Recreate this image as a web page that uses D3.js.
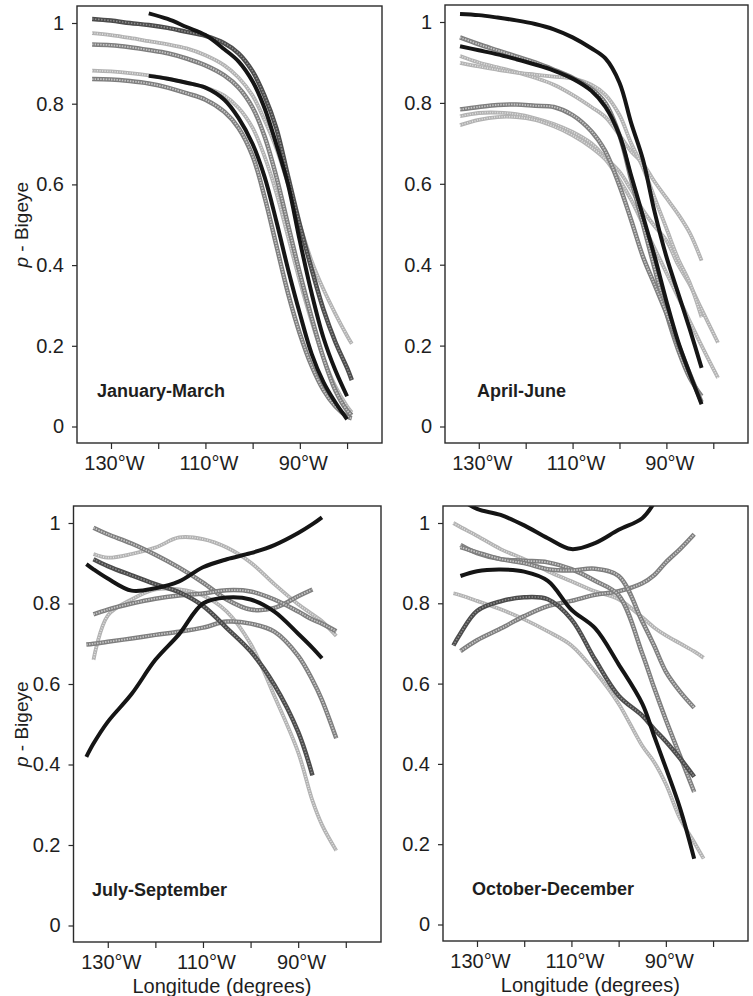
<!DOCTYPE html>
<html>
<head>
<meta charset="utf-8">
<script src="https://cdn.jsdelivr.net/npm/d3@7"></script>
<style>
  body { margin: 0; background: #fff; }
  svg text { font-family: "Liberation Sans Narrow", "Arial Narrow", "Liberation Sans", sans-serif; fill: #1e1e1e; }
  .panel-label { font-family: "Liberation Sans", Arial, sans-serif; font-weight: bold; font-size: 18px; }
</style>
</head>
<body>
<svg id="chart" width="753" height="996"></svg>
<script>
// ---- data ----
const panelNames = ["January-March", "April-June", "July-September", "October-December"];

const xTicks = [-130, -120, -110, -100, -90, -80];
const xTickLabels = { "-130": "130°W", "-110": "110°W", "-90": "90°W" };
const yTicks = [0, 0.2, 0.4, 0.6, 0.8, 1];
const yTickLabels = ["0", "0.2", "0.4", "0.6", "0.8", "1"];

// January-March
const lonJanMar = [-134, -130, -126, -122, -118, -114, -110, -106, -103, -100, -97.5, -95, -92.5, -90, -87.5, -85, -82.5, -80, -79];
const janMarValues = [
  [1.01, 1.006, 1.0, 0.995, 0.988, 0.978, 0.968, 0.95, 0.925, 0.88, 0.82, 0.74, 0.62, 0.50, 0.39, 0.29, 0.21, 0.145, 0.115],
  [null, null, null, 1.024, 1.01, 0.99, 0.97, 0.935, 0.905, 0.855, 0.79, 0.70, 0.60, 0.46, 0.33, 0.22, 0.14, 0.075, null],
  [0.975, 0.97, 0.963, 0.955, 0.947, 0.937, 0.92, 0.895, 0.865, 0.82, 0.76, 0.69, 0.60, 0.50, 0.41, 0.34, 0.28, 0.225, 0.205],
  [0.947, 0.945, 0.94, 0.933, 0.925, 0.912, 0.895, 0.87, 0.84, 0.79, 0.72, 0.62, 0.50, 0.38, 0.27, 0.17, 0.09, 0.04, 0.028],
  [0.882, 0.88, 0.876, 0.87, 0.862, 0.852, 0.84, 0.82, 0.79, 0.74, 0.67, 0.58, 0.47, 0.36, 0.26, 0.17, 0.10, 0.05, 0.035],
  [0.861, 0.86, 0.856, 0.85, 0.84, 0.826, 0.81, 0.78, 0.74, 0.67, 0.57, 0.45, 0.33, 0.23, 0.15, 0.09, 0.05, 0.025, 0.02],
  [null, null, null, 0.869, 0.862, 0.852, 0.84, 0.81, 0.765, 0.70, 0.62, 0.51, 0.39, 0.28, 0.18, 0.11, 0.06, 0.018, null]
];
const janMarShades = ["dark", "black", "light", "mid", "light", "mid", "black"];

// April-June
const lonAprJun = [-134, -130, -126, -122, -118, -114, -110, -106, -103, -100, -97.5, -95, -92.5, -90, -87.5, -85, -82.5, -79];
const aprJunValues = [
  [1.02, 1.017, 1.011, 1.004, 0.995, 0.982, 0.962, 0.935, 0.91, 0.85, 0.75, 0.66, 0.53, 0.42, 0.33, 0.24, 0.145, null],
  [0.94, 0.93, 0.92, 0.908, 0.895, 0.88, 0.86, 0.83, 0.79, 0.72, 0.62, 0.52, 0.42, 0.31, 0.21, 0.13, 0.055, null],
  [0.962, 0.945, 0.93, 0.915, 0.9, 0.882, 0.862, 0.835, 0.80, 0.72, 0.61, 0.50, 0.39, 0.28, 0.19, 0.12, 0.075, null],
  [0.784, 0.79, 0.795, 0.796, 0.793, 0.79, 0.77, 0.73, 0.68, 0.595, 0.51, 0.42, 0.35, 0.28, 0.205, 0.13, 0.06, null],
  [0.767, 0.775, 0.776, 0.772, 0.762, 0.748, 0.728, 0.70, 0.665, 0.63, 0.585, 0.535, 0.495, 0.46, 0.40, 0.35, 0.29, 0.207],
  [0.745, 0.758, 0.765, 0.765, 0.758, 0.742, 0.72, 0.69, 0.66, 0.61, 0.56, 0.50, 0.44, 0.38, 0.32, 0.26, 0.20, 0.12],
  [0.916, 0.90, 0.888, 0.876, 0.862, 0.845, 0.82, 0.79, 0.765, 0.72, 0.68, 0.65, 0.605, 0.565, 0.525, 0.478, 0.41, null],
  [0.899, 0.89, 0.882, 0.875, 0.87, 0.865, 0.86, 0.845, 0.82, 0.77, 0.70, 0.64, 0.565, 0.49, 0.415, 0.355, 0.27, null]
];
const aprJunShades = ["black", "black", "mid", "mid", "light", "light", "light", "light"];

// July-September
const lonJulSep = [-134.5, -133, -130, -125, -120, -115, -110, -105, -100, -95, -90, -87, -85, -82];
const julSepValues = [
  [0.419, 0.452, 0.506, 0.575, 0.66, 0.724, 0.80, 0.815, 0.81, 0.78, 0.725, 0.69, 0.664, null],
  [0.898, 0.885, 0.862, 0.832, 0.838, 0.855, 0.89, 0.91, 0.925, 0.945, 0.975, 0.997, 1.014, null],
  [null, 0.988, 0.972, 0.949, 0.921, 0.889, 0.852, 0.81, 0.785, 0.789, 0.818, 0.835, null, null],
  [null, 0.773, 0.785, 0.80, 0.812, 0.82, 0.825, 0.833, 0.83, 0.81, 0.78, 0.76, 0.75, 0.731],
  [null, 0.923, 0.914, 0.923, 0.939, 0.964, 0.96, 0.939, 0.902, 0.848, 0.798, 0.773, 0.756, 0.719],
  [null, 0.91, 0.893, 0.87, 0.848, 0.828, 0.794, 0.739, 0.681, 0.598, 0.481, 0.373, null, null],
  [0.698, 0.70, 0.705, 0.713, 0.722, 0.73, 0.74, 0.755, 0.75, 0.73, 0.67, 0.61, 0.56, 0.465],
  [null, 0.66, 0.77, 0.81, 0.835, 0.835, 0.82, 0.78, 0.70, 0.57, 0.43, 0.31, 0.25, 0.186]
];
const julSepShades = ["black", "black", "mid", "mid", "light", "dark", "mid", "light"];

// October-December
const lonOctDec = [-135, -133.5, -130, -125, -120, -115, -110, -105, -100, -95, -92.5, -90, -87, -84, -82];
const octDecValues = [
  [null, 1.06, 1.035, 1.02, 0.994, 0.962, 0.935, 0.95, 0.983, 1.012, 1.05, null, null, null, null],
  [null, 0.868, 0.88, 0.884, 0.879, 0.856, 0.784, 0.738, 0.648, 0.55, 0.47, 0.39, 0.29, 0.164, null],
  [0.695, 0.725, 0.781, 0.805, 0.815, 0.81, 0.76, 0.66, 0.57, 0.52, 0.487, 0.456, 0.414, 0.368, null],
  [null, 0.681, 0.708, 0.737, 0.768, 0.793, 0.806, 0.821, 0.83, 0.85, 0.87, 0.902, 0.935, 0.972, null],
  [null, 0.945, 0.925, 0.91, 0.906, 0.902, 0.885, 0.856, 0.82, 0.675, 0.59, 0.51, 0.42, 0.33, null],
  [null, 0.94, 0.927, 0.91, 0.90, 0.885, 0.882, 0.886, 0.868, 0.755, 0.695, 0.63, 0.58, 0.54, null],
  [1.0, 0.99, 0.968, 0.935, 0.91, 0.88, 0.855, 0.83, 0.81, 0.765, 0.74, 0.72, 0.70, 0.68, 0.664],
  [0.825, 0.82, 0.806, 0.785, 0.76, 0.73, 0.695, 0.63, 0.55, 0.445, 0.405, 0.35, 0.264, 0.205, 0.164]
];
const octDecShades = ["black", "black", "dark", "mid", "mid", "mid", "light", "light"];

// ---- layout ----
const panels = [
  { name: panelNames[0], lons: lonJanMar, values: janMarValues, shades: janMarShades, left: 77, top: 6, right: 382, bottom: 443, labelDx: 20, yLabel: true, xLabel: false },
  { name: panelNames[1], lons: lonAprJun, values: aprJunValues, shades: aprJunShades, left: 445, top: 5, right: 748, bottom: 443, labelDx: 32, yLabel: false, xLabel: false },
  { name: panelNames[2], lons: lonJulSep, values: julSepValues, shades: julSepShades, left: 73.5, top: 506, right: 381, bottom: 942, labelDx: 18.5, yLabel: true, xLabel: true },
  { name: panelNames[3], lons: lonOctDec, values: octDecValues, shades: octDecShades, left: 443, top: 506, right: 748, bottom: 941, labelDx: 29, yLabel: false, xLabel: true }
];

// stroke layers for each grey shade (outer stroke + speckled core)
const shadeStyle = {
  black: [{ stroke: "#151515", width: 4 }],
  dark: [{ stroke: "#4c4c4c", width: 4.5 }, { stroke: "#8c8c8c", width: 1.6, dash: "1.5 1.5" }],
  mid: [{ stroke: "#7e7e7e", width: 4.5 }, { stroke: "#c6c6c6", width: 1.8, dash: "1.5 1.2" }],
  light: [{ stroke: "#b2b2b2", width: 3.8 }, { stroke: "#e2e2e2", width: 1.6, dash: "1 1.5" }]
};
const drawOrder = ["light", "mid", "dark", "black"];

const svg = d3.select("#chart");

panels.forEach((p, pi) => {
  const x = d3.scaleLinear().domain([-137.2, -72.6]).range([p.left, p.right]);
  const y = d3.scaleLinear().domain([0, 1]).range([p.bottom - 16.5, p.top + 17]);

  const g = svg.append("g").attr("class", "panel");

  // clip to the frame
  const clipId = "clip" + pi;
  svg.append("clipPath").attr("id", clipId)
    .append("rect")
    .attr("x", p.left).attr("y", p.top)
    .attr("width", p.right - p.left).attr("height", p.bottom - p.top);

  // curves
  const line = d3.line()
    .defined(d => d[1] != null)
    .x(d => x(d[0]))
    .y(d => y(d[1]))
    .curve(d3.curveCatmullRom.alpha(0.5));

  const series = p.values.map((vals, i) => ({
    shade: p.shades[i],
    points: p.lons.map((lon, j) => [lon, vals[j]])
  }));
  series.sort((a, b) => drawOrder.indexOf(a.shade) - drawOrder.indexOf(b.shade));

  const lines = g.append("g").attr("clip-path", `url(#${clipId})`);
  series.forEach(s => {
    shadeStyle[s.shade].forEach(layer => {
      lines.append("path")
        .datum(s.points)
        .attr("d", line)
        .attr("fill", "none")
        .attr("stroke", layer.stroke)
        .attr("stroke-width", layer.width)
        .attr("stroke-dasharray", layer.dash || null)
        .attr("stroke-linecap", "butt")
        .attr("stroke-linejoin", "round");
    });
  });

  // frame
  g.append("rect")
    .attr("x", p.left).attr("y", p.top)
    .attr("width", p.right - p.left).attr("height", p.bottom - p.top)
    .attr("fill", "none")
    .attr("stroke", "#2a2a2a")
    .attr("stroke-width", 1.4);

  // x axis
  const xAxis = g.append("g")
    .attr("transform", `translate(0,${p.bottom})`)
    .call(d3.axisBottom(x).tickValues(xTicks).tickSize(6).tickSizeOuter(0)
      .tickFormat(d => xTickLabels[d] || ""));
  xAxis.select(".domain").remove();
  xAxis.selectAll("line").attr("stroke", "#2a2a2a").attr("stroke-width", 1.2);
  xAxis.selectAll("text")
    .attr("y", 27).attr("dy", null).attr("dx", 3)
    .style("font-size", "20px")
    .attr("fill", "#1e1e1e");

  // y axis
  const yAxis = g.append("g")
    .attr("transform", `translate(${p.left},0)`)
    .call(d3.axisLeft(y).tickValues(yTicks).tickSize(5).tickPadding(8).tickSizeOuter(0)
      .tickFormat((d, i) => yTickLabels[i]));
  yAxis.select(".domain").remove();
  yAxis.selectAll("line").attr("stroke", "#2a2a2a").attr("stroke-width", 1.2);
  yAxis.selectAll("text")
    .style("font-size", "20px")
    .attr("fill", "#1e1e1e");

  // season label
  g.append("text")
    .attr("class", "panel-label")
    .attr("x", p.left + p.labelDx)
    .attr("y", p.bottom - 46.5)
    .text(p.name);

  if (p.yLabel) {
    const yl = g.append("text")
      .attr("transform", "rotate(-90)")
      .attr("x", -(y(0) + y(1)) / 2)
      .attr("y", 28)
      .attr("text-anchor", "middle")
      .style("font-size", "19px");
    yl.append("tspan").style("font-style", "italic").text("p");
    yl.append("tspan").text(" - Bigeye");
  }

  if (p.xLabel) {
    g.append("text")
      .attr("x", x(-106))
      .attr("y", p.bottom + 51)
      .attr("text-anchor", "middle")
      .style("font-size", "20px")
      .text("Longitude (degrees)");
  }
});
</script>
</body>
</html>
